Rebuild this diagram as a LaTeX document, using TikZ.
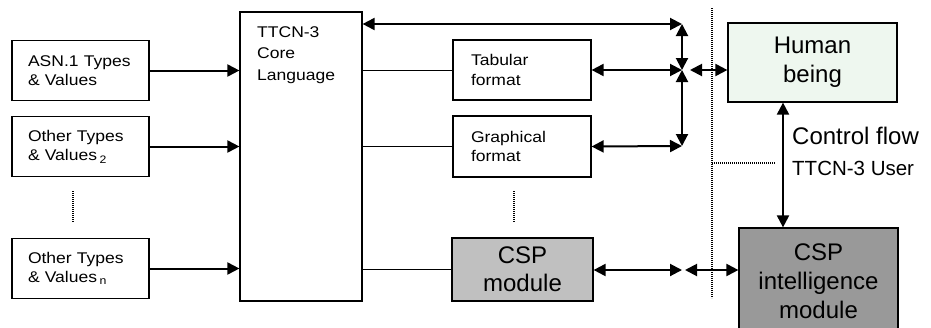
\documentclass[tikz,border=0pt]{standalone}
\usepackage{fontspec}
\setmainfont{Liberation Sans}
\newfontfamily\widesf{Liberation Sans}[FakeStretch=1.13]
\usetikzlibrary{arrows.meta}

\definecolor{humanfill}{HTML}{EEF7EF}
\definecolor{cspfill}{HTML}{C0C0C0}
\definecolor{intelfill}{HTML}{999999}

\tikzset{
  box/.style={draw, line width=1.2pt, rectangle, inner ysep=0pt},
  smallbox/.style={box, inner xsep=16pt, text width=105pt, minimum height=60pt,
    align=left, font=\widesf\fontsize{15.5}{19.5}\selectfont},
  bigbox/.style={box, align=center, font=\fontsize{24}{29}\selectfont},
  tip/.tip={Triangle[length=12pt,width=12pt]},
  onearrow/.style={line width=2pt, -tip},
  twoarrow/.style={line width=2pt, tip-tip},
  plain/.style={line width=1pt},
  sep/.style={line width=1.7pt, dash pattern=on 1.2pt off 0.8pt},
}

\begin{document}
\begin{tikzpicture}[x=1pt,y=-1pt]
\clip (0,0) rectangle (931,327);

% input type systems
\node[smallbox] (asn) at (80.5,70.5) {ASN.1 Types\\\& Values};
\node[smallbox] (oth2) at (80.5,146.5) {Other Types\\\& Values\,\textsubscript{2}};
\node[smallbox] (othn) at (80.5,268.5) {Other Types\\\& Values\,\textsubscript{n}};
\coordinate (ld1) at (73,191);
\coordinate (ld2) at (73,222);
\draw[sep] (ld1) -- (ld2);

% core language
\node[box, minimum width=122pt, minimum height=289pt] (core) at (301,156.5) {};
\node[anchor=north west, inner sep=0pt, align=left,
  font=\widesf\fontsize{15.5}{21.5}\selectfont] (coretext) at (257,26)
  {TTCN-3\\Core\\Language};

\draw[onearrow] (asn.east) -- (asn.east -| core.west);
\draw[onearrow] (oth2.east) -- (oth2.east -| core.west);
\draw[onearrow] (othn.east) -- (othn.east -| core.west);

% presentation formats
\node[smallbox, inner xsep=18pt, text width=102pt] (tab) at (522,70) {Tabular\\format};
\node[smallbox, inner xsep=18pt, text width=102pt, minimum height=61pt] (gra) at (522,146.5) {Graphical\\format};
\node[bigbox, fill=cspfill, minimum width=141pt, minimum height=63pt] (csp) at (522.5,269.5) {CSP\\[-1pt]module};
\coordinate (md1) at (514,191);
\coordinate (md2) at (514,222);
\draw[sep] (md1) -- (md2);

\draw[plain] (tab.west -| core.east) -- (tab.west);
\draw[plain] (gra.west -| core.east) -- (gra.west);
\draw[plain] (csp.west -| core.east) -- (csp.west);

% junction of the presentation links
\coordinate (T) at (682,24);
\coordinate (J) at (682,70);
\coordinate (B) at (682,146);
\coordinate (Jr) at (690,70);
\coordinate (C) at (682,270);
\coordinate (Cr) at (685,270);

\draw[twoarrow] (T -| core.east) -- (T);
\draw[twoarrow] (tab.east) -- (J);
\draw[twoarrow] (gra.east) -- (B);
\draw[twoarrow] (T) -- (J);
\draw[twoarrow] (J) -- (B);

% user side
\node[bigbox, fill=humanfill, minimum width=169pt, minimum height=79pt] (hb) at (812.5,62.5) {Human\\being};
\node[bigbox, fill=intelfill, minimum width=159pt, minimum height=106pt] (cspi) at (818.5,281) {CSP\\intelligence\\module};

\draw[twoarrow] (Jr) -- (hb.west |- Jr);
\draw[twoarrow] (csp.east |- C) -- (C);
\draw[twoarrow] (Cr) -- (cspi.west |- Cr);

\coordinate (cf) at (783,0);
\draw[twoarrow] (cf |- hb.south) -- (cf |- cspi.north);

\node[anchor=base west, inner sep=0pt, font=\fontsize{24}{29}\selectfont] (ctl) at (792,144) {Control flow};
\node[anchor=base west, inner sep=0pt, font=\fontsize{20.5}{24}\selectfont] (usr) at (792,175) {TTCN-3 User};

% boundary of the TTCN-3 user
\coordinate (b1) at (712,8);
\coordinate (b2) at (712,298);
\coordinate (b3) at (712,163);
\coordinate (b4) at (775,163);
\draw[sep] (b1) -- (b2);
\draw[sep] (b3) -- (b4);
\end{tikzpicture}
\end{document}
